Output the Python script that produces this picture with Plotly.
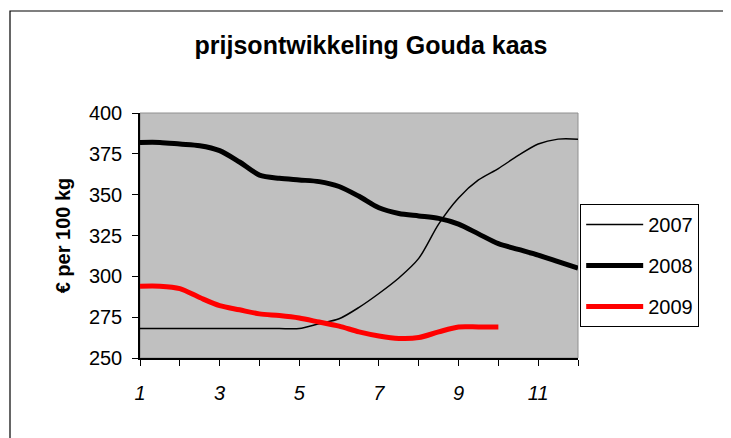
import plotly.graph_objects as go

x_vals = [1, 1.5, 2, 2.5, 3, 3.5, 4, 4.5, 5, 5.5, 6, 6.5, 7, 7.5, 8, 8.5, 9, 9.5, 10, 10.5, 11, 11.5, 12]
prices_2007 = [268, 268, 268, 268, 268, 268, 268, 268, 268, 271, 274, 281, 289.5, 299, 311, 332, 348, 359, 366, 374, 381, 384, 384]
prices_2008 = [382, 382, 381, 380, 377, 370, 362, 360, 359, 358, 355, 349, 342, 338.5, 337, 335.5, 332, 326, 320, 316.5, 313, 309, 305]
x_2009 = [1, 1.5, 2, 2.5, 3, 3.5, 4, 4.5, 5, 5.5, 6, 6.5, 7, 7.5, 8, 8.5, 9, 9.5, 10]
prices_2009 = [294, 294, 292.5, 287, 282, 279.5, 277, 276, 274.5, 272, 269.5, 266, 263.5, 262, 262.5, 266, 269, 269, 269]

x_ticks = list(range(1, 13))
x_ticktext = [str(v) if v % 2 == 1 else "" for v in x_ticks]
y_ticks = [250, 275, 300, 325, 350, 375, 400]

FONT = "Liberation Sans, Arial, sans-serif"

# page is rendered with an 8px body margin, so the figure is laid out 8px up/left
L, T, R, B = 132, 105, 161, 88
PW, PH = 731 - L - R, 438 - T - B

fig = go.Figure()
fig.add_trace(go.Scatter(x=x_vals, y=prices_2007, mode="lines", name="2007",
                         line=dict(color="black", width=1.5, shape="spline", smoothing=0.8),
                         legendgroup="a"))
fig.add_trace(go.Scatter(x=x_vals, y=prices_2008, mode="lines", name="2008",
                         line=dict(color="black", width=5, shape="spline", smoothing=0.8),
                         legendgroup="b"))
fig.add_trace(go.Scatter(x=x_2009, y=prices_2009, mode="lines", name="2009",
                         line=dict(color="#FF0000", width=5, shape="spline", smoothing=0.8),
                         legendgroup="c"))

fig.update_layout(
    width=731, height=438,
    margin=dict(l=L, r=R, t=T, b=B),
    paper_bgcolor="white",
    plot_bgcolor="#C0C0C0",
    font=dict(family=FONT, color="black", size=20),
    title=dict(text="<b>prijsontwikkeling Gouda kaas</b>", x=(371 - 8) / 731, xanchor="center",
               y=1 - 37 / 438, yanchor="middle", yref="container",
               font=dict(family=FONT, size=25, color="black")),
    showlegend=True,
    legend=dict(x=1.005, xanchor="left", y=0.629, yanchor="top",
                bgcolor="white", bordercolor="black", borderwidth=1,
                font=dict(family=FONT, size=20, color="black"),
                tracegroupgap=12, traceorder="grouped", itemwidth=57),
    xaxis=dict(range=[1, 12], tickvals=x_ticks, ticktext=x_ticktext,
               ticks="outside", ticklen=6, tickcolor="black", tickwidth=1,
               showline=True, linecolor="black", linewidth=1.5,
               showgrid=False, zeroline=False, ticklabelstandoff=10,
               tickfont=dict(family=FONT, size=20, style="italic")),
    yaxis=dict(range=[250, 400], tickvals=y_ticks,
               ticks="outside", ticklen=6, tickcolor="black", tickwidth=1,
               showline=True, linecolor="black", linewidth=1.5,
               showgrid=False, zeroline=False, ticklabelstandoff=6,
               title=dict(text="<b>€ per 100 kg</b>", standoff=13,
                          font=dict(family=FONT, size=20))),
    shapes=[
        dict(type="rect", xref="paper", yref="paper", x0=0, x1=1, y0=0, y1=1,
             line=dict(color="#909090", width=1), layer="below"),
        dict(type="rect", xref="paper", yref="paper",
             x0=(2 - L) / PW, x1=(720 - L) / PW, y0=-120 / PH, y1=(T + PH - 3) / PH,
             line=dict(color="black", width=1.2), fillcolor="rgba(0,0,0,0)", layer="above"),
    ],
)

fig.write_html("out.html")
